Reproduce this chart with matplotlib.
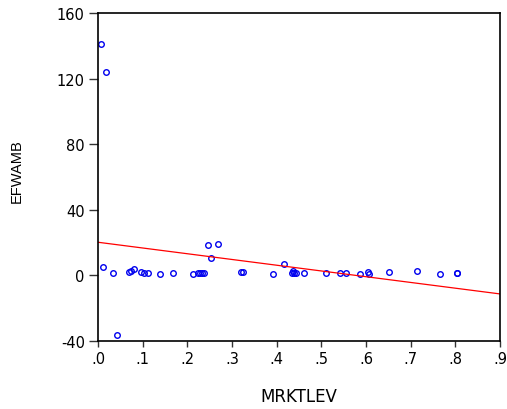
import numpy as np
import matplotlib.pyplot as plt

plt.rcParams['font.family'] = ['DejaVu Sans']
plt.rcParams['axes.unicode_minus'] = False

mrktlev = [0.007, 0.018, 0.012, 0.033, 0.042, 0.069, 0.073, 0.081, 0.096, 0.103,
           0.111, 0.138, 0.167, 0.213, 0.223, 0.228, 0.233, 0.238, 0.246, 0.252,
           0.268, 0.320, 0.325, 0.391, 0.416, 0.434, 0.436, 0.440, 0.443, 0.461,
           0.510, 0.543, 0.555, 0.587, 0.605, 0.607, 0.652, 0.715, 0.766, 0.803,
           0.805]
efwamb = [141.0, 124.0, 4.9, 1.6, -36.3, 2.3, 2.7, 4.1, 1.9, 1.5,
          1.5, 0.9, 1.5, 0.9, 1.6, 1.6, 1.6, 1.6, 18.7, 10.4,
          19.1, 1.9, 1.9, 1.0, 7.0, 1.5, 2.5, 1.2, 1.5, 1.5,
          1.3, 1.5, 1.6, 1.0, 2.3, 0.9, 1.9, 2.7, 1.0, 1.3,
          1.3]

# fitted line
fit_intercept = 20.2
fit_slope = -35.0

xticks = [0, 0.1, 0.2, 0.3, 0.4, 0.5, 0.6, 0.7, 0.8, 0.9]
xticklabels = ['.0', '.1', '.2', '.3', '.4', '.5', '.6', '.7', '.8', '.9']
yticks = [-40, 0, 40, 80, 120, 160]

fig = plt.figure(figsize=(5.07, 4.10), dpi=100)
ax = fig.add_axes([0.1933, 0.1659, 0.7927, 0.8000])

ax.plot(mrktlev, efwamb, 'o', ls='none', mfc='none', mec='#0000ee',
        ms=4, mew=1.0)
xl = np.array([0, 0.9])
ax.plot(xl, fit_intercept + fit_slope * xl, color='#ff0000', lw=0.9)

ax.set_xlim(0, 0.9)
ax.set_ylim(-40, 160)
ax.set_xticks(xticks)
ax.set_xticklabels(xticklabels)
ax.set_yticks(yticks)
ax.tick_params(axis='x', direction='out', length=4.5, width=1, color='#333333',
               labelsize=10.5, pad=3)
ax.tick_params(axis='y', direction='out', length=6.5, width=1, color='#333333',
               labelsize=10.5, pad=3)
for s in ax.spines.values():
    s.set_linewidth(1.2)

ax.set_xlabel('MRKTLEV', fontsize=12)
ax.set_ylabel('EFWAMB', fontsize=10.5,
              family=['Liberation Sans Narrow', 'Liberation Sans'])
ax.xaxis.set_label_coords(0.5, -0.168)
ax.yaxis.set_label_coords(-0.2015, 0.52)
ax.xaxis.label.set_va('center')
ax.yaxis.label.set_va('center')

fig.savefig('out.png', dpi=100)
